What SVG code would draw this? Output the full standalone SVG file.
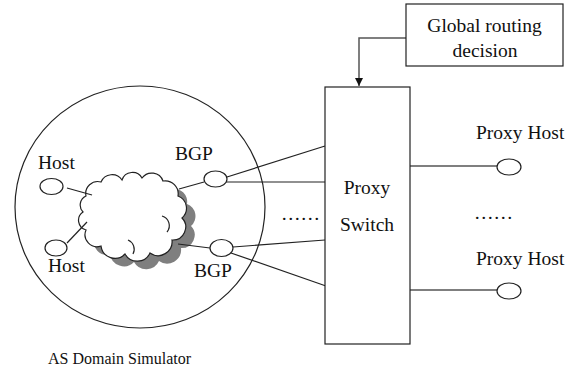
<svg xmlns="http://www.w3.org/2000/svg" width="573" height="371" viewBox="0 0 573 371">
<style>
.t{font-family:"Liberation Serif","Times New Roman",serif;font-size:19.5px;fill:#111}
.s{font-family:"Liberation Serif","Times New Roman",serif;font-size:16px;fill:#111}
.n{fill:#fff;stroke:#222;stroke-width:1.2}
.c{stroke:#222;stroke-width:1.2;fill:none}
.g{stroke:#555;stroke-width:1.5;fill:none}
</style>
<defs>
<marker id="ah" markerWidth="8" markerHeight="10" refX="8" refY="5" orient="auto" markerUnits="userSpaceOnUse">
<path d="M0,1 L8,5 L0,9 Z" fill="#111"/>
</marker>
<path id="cloudShape" d="M86,196 A12,12 0 0 1 101,182 A12,12 0 0 1 122,180 A11,11 0 0 1 142,178 A12,12 0 0 1 163,181 A13,13 0 0 1 178,196 A13,13 0 0 1 182,218 A13,13 0 0 1 172,240 A14,14 0 0 1 150,253 A14,14 0 0 1 125,254 A14,14 0 0 1 101,246 A12,12 0 0 1 86,230 A10,10 0 0 1 83,212 A10,10 0 0 1 86,196 Z"/>
</defs>

<g id="as-domain">
<ellipse cx="140" cy="207" rx="125" ry="121" class="c"/>
<text x="48" y="364" class="s">AS Domain Simulator</text>
</g>

<g id="cloud">
<use href="#cloudShape" transform="translate(9,8)" fill="#7f7f7f"/>
<use href="#cloudShape" fill="#fff" stroke="#222" stroke-width="1.2"/>
<path d="M162,216 A10,10 0 0 1 167,232" class="c"/>
<path d="M128,240 A10,10 0 0 1 133,254" class="c"/>
</g>

<g id="connectors">
<line x1="67" y1="188" x2="92" y2="195" class="c"/>
<line x1="67" y1="243" x2="87" y2="222" class="c"/>
<line x1="179" y1="189" x2="204" y2="182" class="c"/>
<line x1="178" y1="244" x2="210" y2="248" class="c"/>
<line x1="227" y1="177" x2="325" y2="146" class="c"/>
<line x1="226" y1="182" x2="325" y2="182" class="c"/>
<line x1="233" y1="247" x2="325" y2="240" class="c"/>
<line x1="231" y1="253" x2="326" y2="286" class="c"/>
<line x1="410" y1="166" x2="497" y2="166" class="g"/>
<line x1="410" y1="290" x2="497" y2="290" class="g"/>
<path d="M406,38 H359 V86" class="g" marker-end="url(#ah)"/>
</g>

<g id="host1">
<ellipse cx="51.5" cy="186.5" rx="11.5" ry="8" class="n"/>
<text x="38" y="169" class="t">Host</text>
</g>
<g id="host2">
<ellipse cx="56" cy="248" rx="11" ry="8" class="n"/>
<text x="48" y="271.5" class="t">Host</text>
</g>
<g id="bgp1">
<ellipse cx="215.5" cy="179" rx="11.5" ry="8" class="n"/>
<text x="175" y="159.5" class="t">BGP</text>
</g>
<g id="bgp2">
<ellipse cx="221.5" cy="248" rx="11.5" ry="8.5" class="n"/>
<text x="194" y="276.5" class="t">BGP</text>
</g>

<g id="dots-left">
<text x="281" y="220" class="t">……</text>
</g>

<g id="proxy-switch">
<rect x="325" y="87" width="85" height="257" class="n"/>
<text x="367" y="194" class="t" text-anchor="middle">Proxy</text>
<text x="367" y="231" class="t" text-anchor="middle">Switch</text>
</g>

<g id="global-routing">
<rect x="406" y="4" width="157" height="62" class="n"/>
<text x="484.5" y="32" class="t" text-anchor="middle">Global routing</text>
<text x="485" y="57" class="t" text-anchor="middle">decision</text>
</g>

<g id="proxy-host1">
<ellipse cx="509" cy="167" rx="12" ry="8" class="n"/>
<text x="476" y="139" class="t">Proxy Host</text>
</g>
<g id="dots-right">
<text x="474" y="219" class="t">……</text>
</g>
<g id="proxy-host2">
<ellipse cx="509" cy="291" rx="12" ry="8" class="n"/>
<text x="476" y="265" class="t">Proxy Host</text>
</g>
</svg>
